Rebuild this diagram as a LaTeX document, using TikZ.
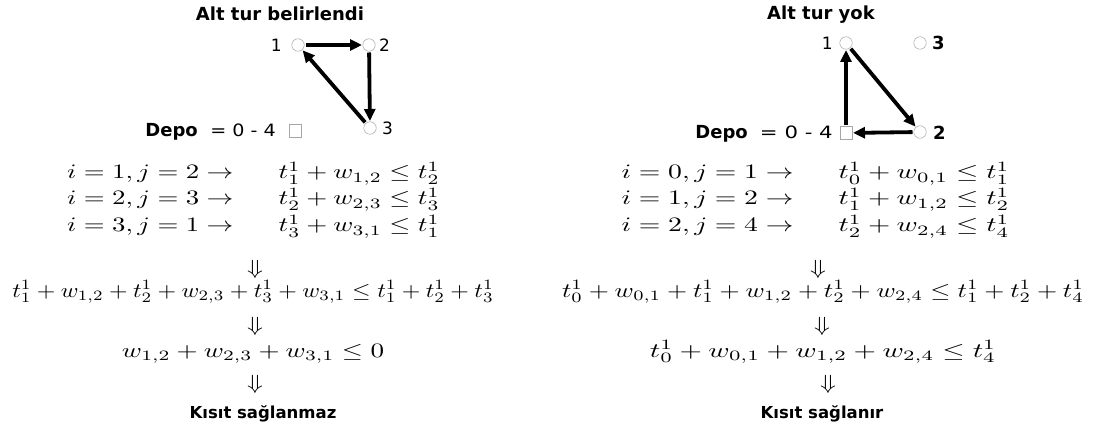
\documentclass[tikz,border=0pt]{standalone}
\usepackage{fontspec}
\newfontfamily\lblfont{DejaVu Sans}
\usetikzlibrary{arrows.meta}
\tikzset{
  vtx/.style={circle,draw=gray!70,line width=0.5pt,minimum size=12.5pt,inner sep=0pt},
  depot/.style={rectangle,draw=gray!70,line width=0.5pt,minimum size=12.5pt,inner sep=0pt},
  arr/.style={line width=3.8pt,-{Triangle[length=12pt,width=11pt]},shorten <=1pt,shorten >=0.5pt},
  ttl/.style={font=\lblfont\bfseries\fontsize{18}{21}\selectfont,inner sep=0pt,anchor=base},
  endl/.style={font=\lblfont\bfseries\fontsize{16.5}{19}\selectfont,inner sep=0pt,anchor=base},
  num/.style={font=\lblfont\fontsize{17}{20}\selectfont,inner sep=0pt},
  bnum/.style={font=\lblfont\bfseries\fontsize{18}{21}\selectfont,inner sep=0pt},
  eqs/.style={font=\lblfont\fontsize{17}{20}\selectfont,inner sep=0pt,xscale=1.25},
  mth/.style={yscale=2.05,xscale=2.6,inner sep=0pt},
}
\begin{document}
\begin{tikzpicture}[x=1pt,y=-1pt]
\useasboundingbox[fill=white] (0,0) rectangle (1097,430);
% ---------- left graph ----------
\node[ttl] (tL) at (280,21) {Alt tur belirlendi};
\node[vtx] (a1) at (298,45) {};
\node[vtx] (a2) at (369,45) {};
\node[vtx] (a3) at (370,128) {};
\node[num,anchor=east] (la1) at (282,45) {1};
\node[num,anchor=west] (la2) at (379,45) {2};
\node[num,anchor=west] (la3) at (382,128) {3};
\node[depot] (d0) at (295,131) {};
\node[bnum,anchor=base east] (dpL) at (198,137) {Depo};
\node[eqs,xscale=0.9,anchor=base east] (eqL) at (276,137) {= 0 - 4};
\draw[arr] (a1) -- (a2);
\draw[arr] (a2) -- (a3);
\draw[arr] (a3) -- (a1);
% ---------- right graph ----------
\node[ttl] (tR) at (821,20) {Alt tur yok};
\node[vtx] (b1) at (846,43) {};
\node[vtx] (b3) at (920,43) {};
\node[vtx] (b2) at (920,132) {};
\node[depot] (b0) at (846,133) {};
\node[num,anchor=east] (lb1) at (833,43) {1};
\node[bnum,anchor=west] (lb3) at (932,43) {3};
\node[bnum,anchor=west] (lb2) at (933,133) {2};
\node[bnum,anchor=base east] (dpR) at (748,139) {Depo};
\node[eqs,anchor=base east] (eqR) at (833,139) {= 0 - 4};
\draw[arr] (b1) -- (b2);
\draw[arr] (b2) -- (b0);
\draw[arr] (b0) -- (b1);
% ---------- left derivation ----------
\node[mth,xscale=1.031,anchor=base east] (l1a) at (234,179) {$i=1, j=2 \to$};
\node[mth,xscale=1.038,anchor=base west] (l1b) at (278,179) {$t_1^1+w_{1,2}\le t_2^1$};
\node[mth,xscale=1.031,anchor=base east] (l2a) at (234,205) {$i=2, j=3 \to$};
\node[mth,xscale=1.038,anchor=base west] (l2b) at (278,205) {$t_2^1+w_{2,3}\le t_3^1$};
\node[mth,xscale=1.031,anchor=base east] (l3a) at (234,232) {$i=3, j=1 \to$};
\node[mth,xscale=1.038,anchor=base west] (l3b) at (278,232) {$t_3^1+w_{3,1}\le t_1^1$};
\node[mth,anchor=base] (lda) at (255,274) {$\Downarrow$};
\node[mth,xscale=0.919,anchor=base] (lsum) at (253,297) {$t_1^1+w_{1,2}+t_2^1+w_{2,3}+t_3^1+w_{3,1}\le t_1^1+t_2^1+t_3^1$};
\node[mth,anchor=base] (ldb) at (255,331) {$\Downarrow$};
\node[mth,xscale=1.042,anchor=base] (lres) at (253,357) {$w_{1,2}+w_{2,3}+w_{3,1}\le 0$};
\node[mth,anchor=base] (ldc) at (255,389) {$\Downarrow$};
\node[endl] (lend) at (263,418) {Kısıt sağlanmaz};
% ---------- right derivation ----------
\node[mth,xscale=1.065,anchor=base east] (r1a) at (794,179) {$i=0, j=1 \to$};
\node[mth,xscale=1.1,anchor=base west] (r1b) at (838,179) {$t_0^1+w_{0,1}\le t_1^1$};
\node[mth,xscale=1.065,anchor=base east] (r2a) at (794,205) {$i=1, j=2 \to$};
\node[mth,xscale=1.1,anchor=base west] (r2b) at (838,205) {$t_1^1+w_{1,2}\le t_2^1$};
\node[mth,xscale=1.065,anchor=base east] (r3a) at (794,232) {$i=2, j=4 \to$};
\node[mth,xscale=1.1,anchor=base west] (r3b) at (838,232) {$t_2^1+w_{2,4}\le t_4^1$};
\node[mth,anchor=base] (rda) at (818,274) {$\Downarrow$};
\node[mth,xscale=0.996,anchor=base] (rsum) at (823,297) {$t_0^1+w_{0,1}+t_1^1+w_{1,2}+t_2^1+w_{2,4}\le t_1^1+t_2^1+t_4^1$};
\node[mth,anchor=base] (rdb) at (822,331) {$\Downarrow$};
\node[mth,xscale=1.108,anchor=base] (rres) at (823,357) {$t_0^1+w_{0,1}+w_{1,2}+w_{2,4}\le t_4^1$};
\node[mth,anchor=base] (rdc) at (828,389) {$\Downarrow$};
\node[endl] (rend) at (822,418) {Kısıt sağlanır};
\end{tikzpicture}
\end{document}
